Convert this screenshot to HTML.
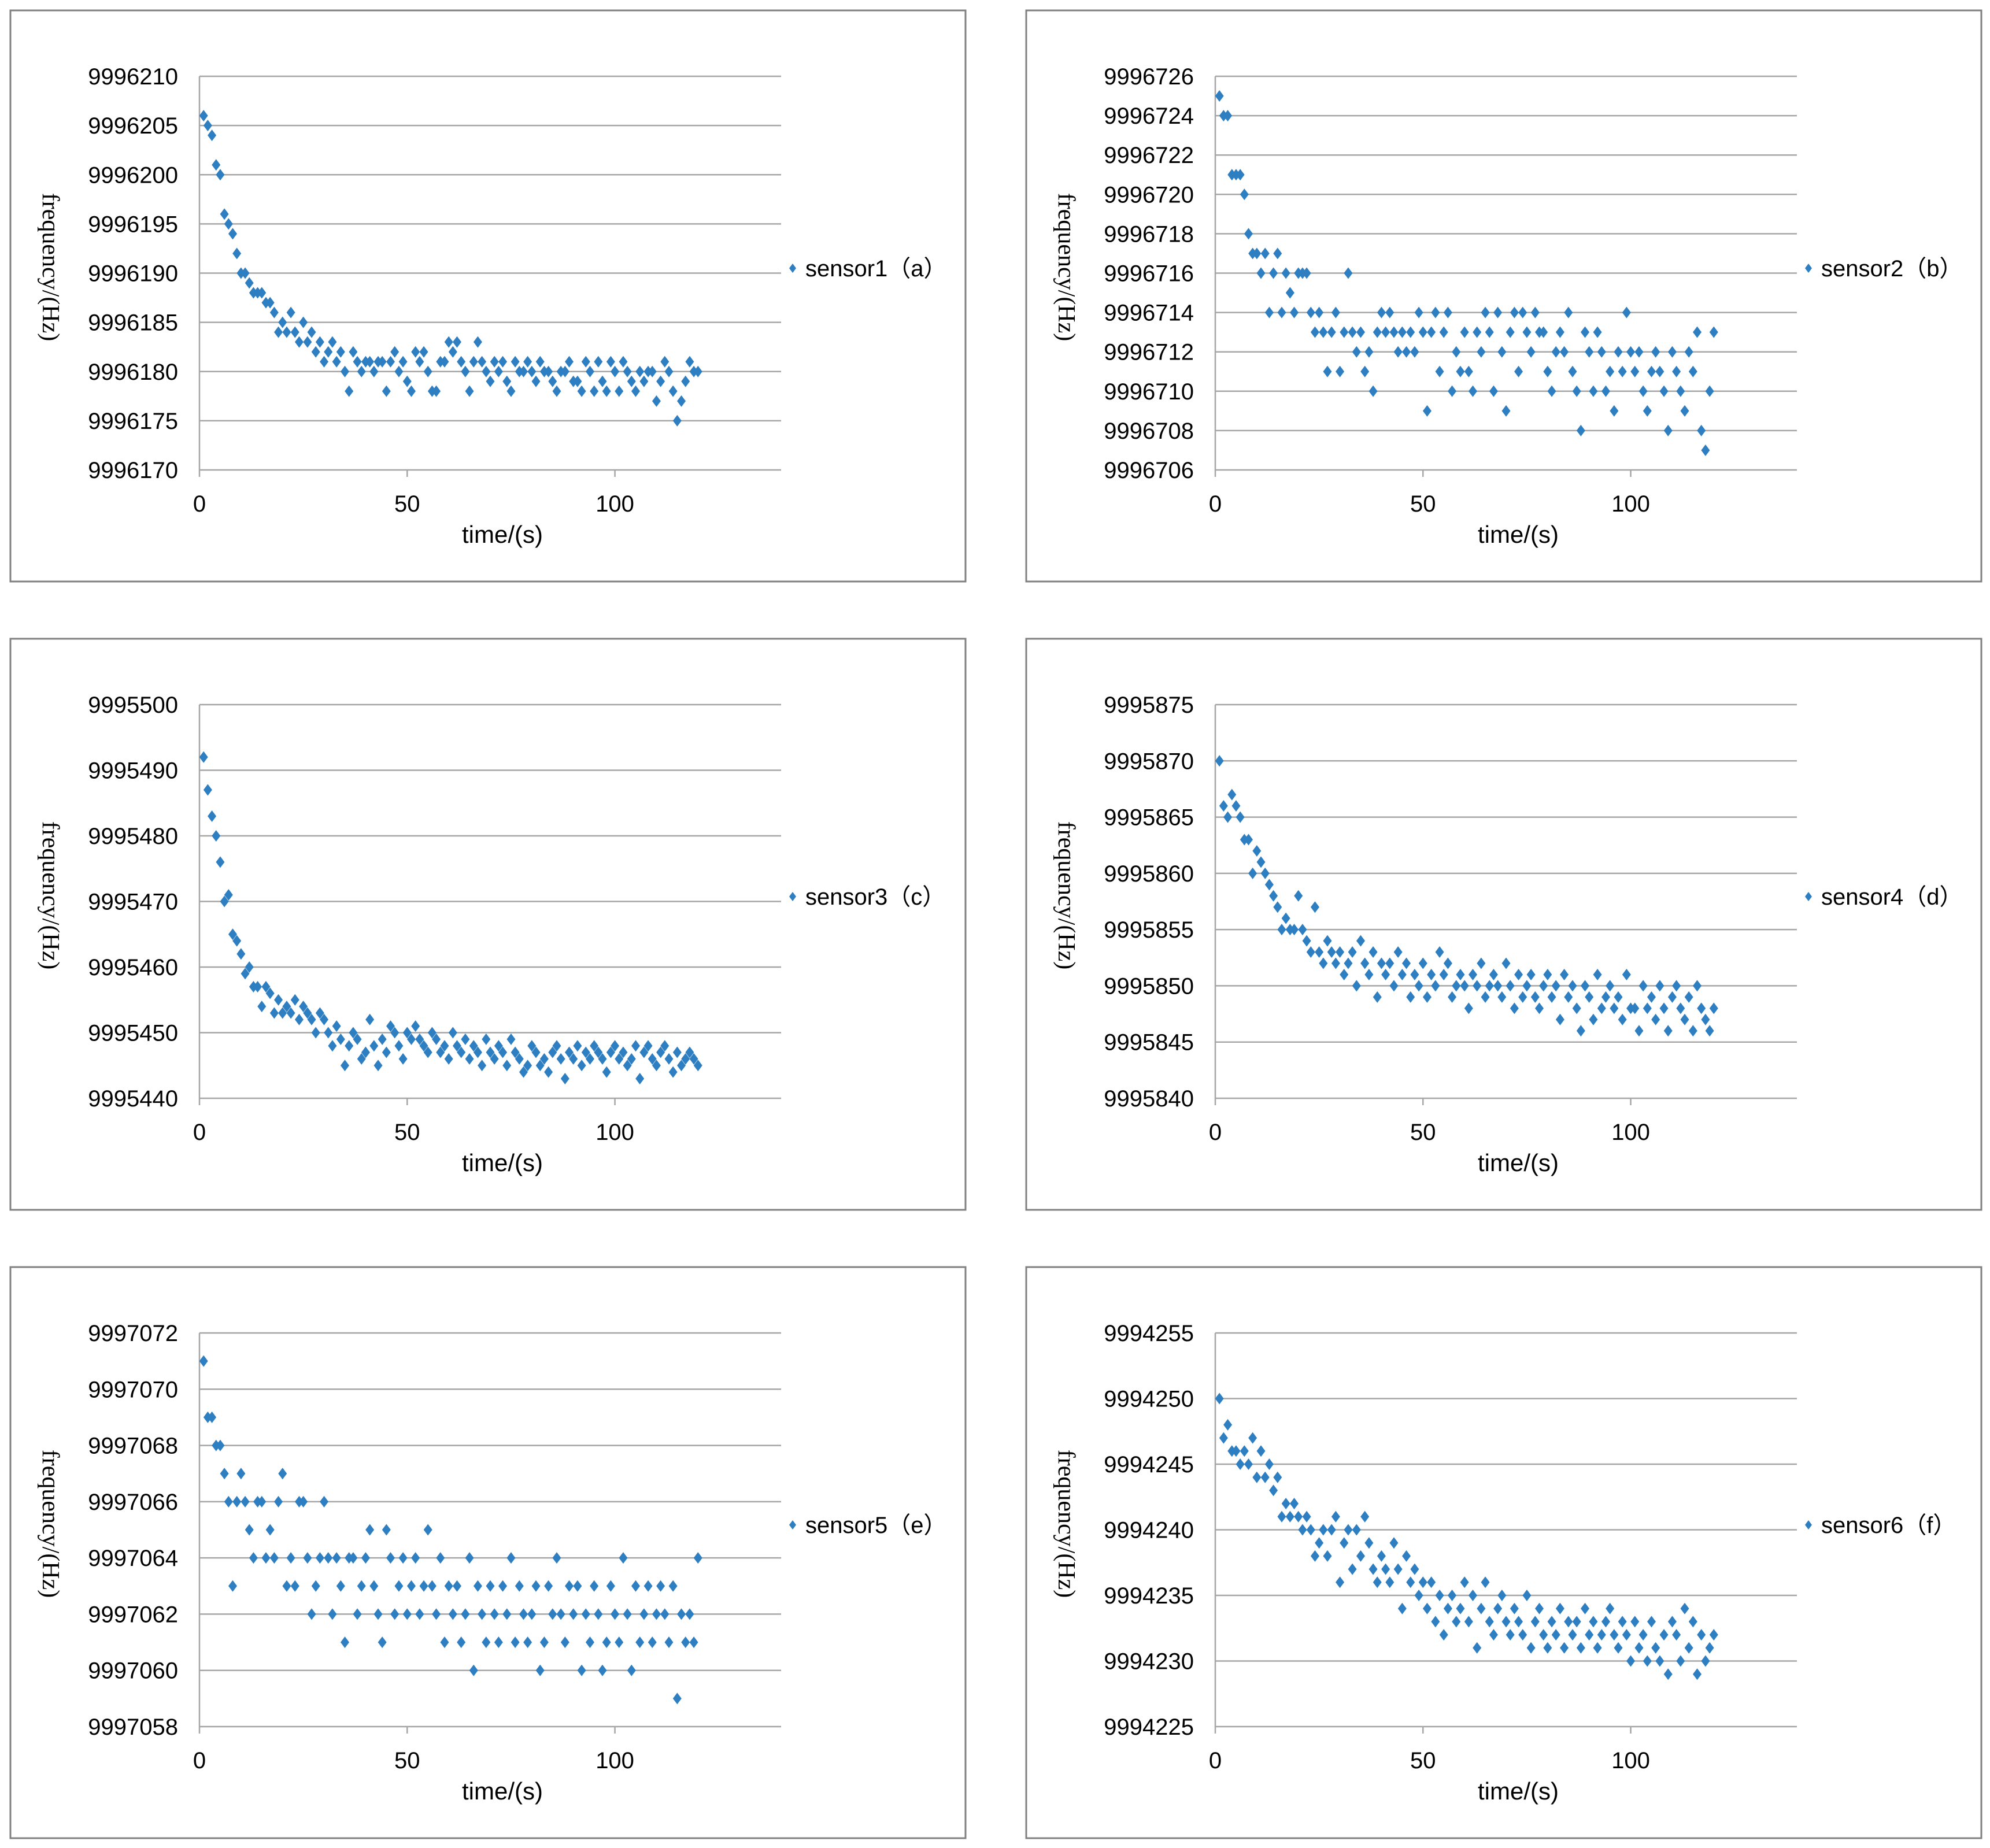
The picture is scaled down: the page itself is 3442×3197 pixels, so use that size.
<!DOCTYPE html>
<html><head><meta charset="utf-8">
<style>
html,body{margin:0;padding:0;background:#fff;}
svg{display:block;}
</style></head>
<body>
<svg id="fig" width="3442" height="3197" viewBox="0 0 3442 3197" xmlns="http://www.w3.org/2000/svg"></svg>
<script>
const times = Array.from({length:120},(_,i)=>i+1);
const xTicks = [0,50,100];
const base1=9996000, s1=[206,205,204,201,200,196,195,194,192,190,190,189,188,188,188,187,187,186,184,185,184,186,184,183,185,183,184,182,183,181,182,183,181,182,180,178,182,181,180,181,181,180,181,181,178,181,182,180,181,179,178,182,181,182,180,178,178,181,181,183,182,183,181,180,178,181,183,181,180,179,181,180,181,179,178,181,180,180,181,180,179,181,180,180,179,178,180,180,181,179,179,178,181,180,178,181,179,178,181,180,178,181,180,179,178,180,179,180,180,177,179,181,180,178,175,177,179,181,180,180];
const yTicks1=[170,175,180,185,190,195,200,205,210];
const base2=9996700, s2=[25,24,24,21,21,21,20,18,17,17,16,17,14,16,17,14,16,15,14,16,16,16,14,13,14,13,11,13,14,11,13,16,13,12,13,11,12,10,13,14,13,14,13,12,13,12,13,12,14,13,9,13,14,11,13,14,10,12,11,13,11,10,13,12,14,13,10,14,12,9,13,14,11,14,13,12,14,13,13,11,10,12,13,12,14,11,10,8,13,12,10,13,12,10,11,9,12,11,14,12,11,12,10,9,11,12,11,10,8,12,11,10,9,12,11,13,8,7,10,13];
const yTicks2=[6,8,10,12,14,16,18,20,22,24,26];
const base3=9995400, s3=[92,87,83,80,76,70,71,65,64,62,59,60,57,57,54,57,56,53,55,53,54,53,55,52,54,53,52,50,53,52,50,48,51,49,45,48,50,49,46,47,52,48,45,49,47,51,50,48,46,50,49,51,49,48,47,50,49,47,48,46,50,48,47,49,46,48,47,45,49,47,46,48,47,45,49,47,46,44,45,48,47,45,46,44,47,48,46,43,47,46,48,45,47,46,48,47,46,44,47,48,46,47,45,46,48,43,47,48,46,45,47,48,46,44,47,45,46,47,46,45];
const yTicks3=[40,50,60,70,80,90,100];
const base4=9995800, s4=[70,66,65,67,66,65,63,63,60,62,61,60,59,58,57,55,56,55,55,58,55,54,53,57,53,52,54,53,52,53,51,52,53,50,54,52,51,53,49,52,51,52,50,53,51,52,49,51,50,52,49,51,50,53,51,52,49,50,51,50,48,51,50,52,49,50,51,50,49,52,50,48,51,49,50,51,49,48,50,51,49,50,47,51,49,50,48,46,50,49,47,51,48,49,50,48,49,47,51,48,48,46,50,48,49,47,50,48,46,49,50,48,47,49,46,50,48,47,46,48];
const yTicks4=[40,45,50,55,60,65,70,75];
const base5=9997000, s5=[71,69,69,68,68,67,66,63,66,67,66,65,64,66,66,64,65,64,66,67,63,64,63,66,66,64,62,63,64,66,64,62,64,63,61,64,64,62,63,64,65,63,62,61,65,64,62,63,64,62,63,64,62,63,65,63,62,64,61,63,62,63,61,62,64,60,63,62,61,63,62,61,63,62,64,61,63,62,61,62,63,60,61,63,62,64,62,61,63,62,63,60,62,61,63,62,60,61,63,62,61,64,62,60,63,61,62,63,61,62,63,62,61,63,59,62,61,62,61,64];
const yTicks5=[58,60,62,64,66,68,70,72];
const base6=9994200, s6=[50,47,48,46,46,45,46,45,47,44,46,44,45,43,44,41,42,41,42,41,40,41,40,38,39,40,38,40,41,36,39,40,37,40,38,41,39,37,36,38,37,36,39,37,34,38,36,37,35,36,34,36,33,35,32,34,35,33,34,36,33,35,31,34,36,33,32,34,35,33,32,34,33,32,35,31,33,34,32,31,33,32,34,31,33,32,33,31,34,32,33,31,32,33,34,32,31,33,32,30,33,31,32,30,33,31,30,32,29,33,32,30,34,31,33,29,32,30,31,32];
const yTicks6=[25,30,35,40,45,50,55];

const panels=[
 {base:base1,vals:s1,ticks:yTicks1,label:"sensor1（a）",px:18,py:18},
 {base:base2,vals:s2,ticks:yTicks2,label:"sensor2（b）",px:1775,py:18},
 {base:base3,vals:s3,ticks:yTicks3,label:"sensor3（c）",px:18,py:1105},
 {base:base4,vals:s4,ticks:yTicks4,label:"sensor4（d）",px:1775,py:1105},
 {base:base5,vals:s5,ticks:yTicks5,label:"sensor5（e）",px:18,py:2192},
 {base:base6,vals:s6,ticks:yTicks6,label:"sensor6（f）",px:1775,py:2192}
];
const NS="http://www.w3.org/2000/svg";
const svg=document.getElementById('fig');
function mk(tag,attrs,parent){const e=document.createElementNS(NS,tag);for(const k in attrs)e.setAttribute(k,attrs[k]);parent.appendChild(e);return e;}
const PW=1652,PH=988,L=327,T=114,W=1006,H=681,XMAX=140;
panels.forEach((p,idx)=>{
 const g=mk('g',{transform:`translate(${p.px},${p.py})`},svg);
 
 
 const border=mk('rect',{x:0,y:0,width:PW,height:PH,fill:'#fff',stroke:'#808080','stroke-width':3},g);
 
 
 const ymin=p.ticks[0],ymax=p.ticks[p.ticks.length-1];
 const xs=v=>L+v/XMAX*W;
 const ys=v=>T+H-(v-ymin)/(ymax-ymin)*H;
 p.ticks.forEach(t=>{
  const y=ys(t);
  const gl=mk('line',{x1:L,x2:L+W,y1:y,y2:y,stroke:'#a6a6a6','stroke-width':2.5},g);
  
  
  const tl=mk('text',{x:L-37,y:y+14,'text-anchor':'end','font-family':'Liberation Sans, sans-serif','font-size':40,fill:'#000'},g);
  tl.textContent=String(p.base+t);
  
  
 });
 const ax=mk('line',{x1:L,x2:L,y1:T,y2:T+H,stroke:'#a6a6a6','stroke-width':2.5},g);
 
 
 xTicks.forEach(t=>{
  const x=xs(t);
  const tk=mk('line',{x1:x,x2:x,y1:T+H,y2:T+H+12,stroke:'#a6a6a6','stroke-width':2.5},g);
  
  
  const xl=mk('text',{x:x,y:T+H+72,'text-anchor':'middle','font-family':'Liberation Sans, sans-serif','font-size':40,fill:'#000'},g);
  xl.textContent=String(t);
  
  
 });
 const xt=mk('text',{x:L+524,y:T+H+126,'text-anchor':'middle','font-family':'Liberation Sans, sans-serif','font-size':42,fill:'#000'},g);
 xt.textContent='time/(s)';
 
 
 const yt=mk('text',{x:0,y:0,'text-anchor':'middle','font-family':'Liberation Serif, serif','font-size':42,fill:'#000',transform:`translate(56,${T+330}) rotate(90)`},g);
 yt.textContent='frequency/(Hz)';
 
 
 p.vals.forEach((v,i)=>{
  const cx=xs(times[i]),cy=ys(v),r=10;
  const d=mk('polygon',{points:`${cx},${cy-r} ${cx+7.5},${cy} ${cx},${cy+r} ${cx-7.5},${cy}`,fill:'#2E7EC2'},g);
  
  
 });
 const lg=mk('g',{},g);
 
 
 const ly=T+332,lx=L+1026;
 mk('polygon',{points:`${lx},${ly-8} ${lx+6},${ly} ${lx},${ly+8} ${lx-6},${ly}`,fill:'#2E7EC2'},lg);
 const lt=mk('text',{x:lx+22,y:ly+14,'font-family':'Liberation Sans, Noto Sans CJK SC, sans-serif','font-size':40,fill:'#000'},lg);
 lt.textContent=p.label;
 
 
});
</script>
</body></html>
